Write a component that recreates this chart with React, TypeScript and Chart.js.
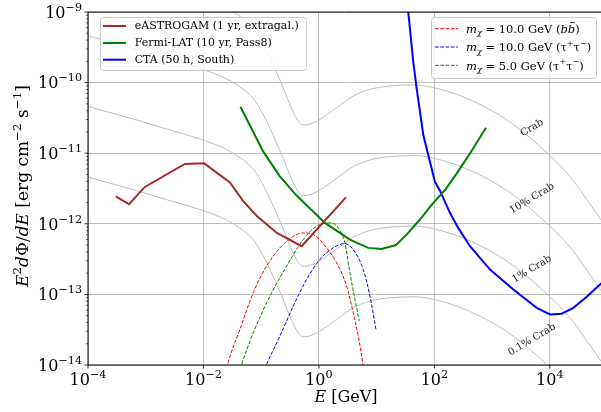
import React, { useEffect, useRef } from 'react';
import { Chart, registerables } from 'chart.js';

Chart.register(...registerables);

// ---------------- data ----------------
const astrogamE = [3.03e-4, 5.15e-4, 9.64e-4, 4.76e-3, 1.03e-2, 2.87e-2, 4.88e-2, 8.41e-2, 0.187, 0.501, 2.94];
const astrogamF = [2.45e-12, 1.89e-12, 3.33e-12, 7.03e-12, 7.18e-12, 3.86e-12, 2.09e-12, 1.29e-12, 7.43e-13, 4.81e-13, 2.37e-12];

const fermiE = [4.37e-2, 0.108, 0.211, 0.411, 1.27, 3.44, 7.14, 12.2, 21.6, 33.1, 56.2, 95.7, 153, 244, 414, 783];
const fermiF = [4.55e-11, 1.06e-11, 4.7e-12, 2.51e-12, 1.03e-12, 5.98e-13, 4.56e-13, 4.39e-13, 5.0e-13, 7.03e-13, 1.15e-12, 1.98e-12, 3.01e-12, 5.18e-12, 9.93e-12, 2.3e-11];

const ctaE = [32.2, 35.3, 43.1, 49.3, 64.3, 83.9, 102, 125, 186, 259, 414, 920, 2333, 5929, 10070, 16070, 25530, 43550, 74130, 124500];
const ctaF = [2.05e-9, 1.0e-9, 1.97e-10, 8.26e-11, 1.81e-11, 7.59e-12, 3.95e-12, 2.95e-12, 1.43e-12, 8.75e-13, 4.81e-13, 2.25e-13, 1.17e-13, 6.46e-14, 5.2e-14, 5.32e-14, 6.46e-14, 9.25e-14, 1.38e-13, 2.11e-13];

const dmBb10E = [1.92e-2, 2.68e-2, 4.28e-2, 7.26e-2, 0.124, 0.24, 0.535, 0.796, 1.36, 2.03, 3.02, 3.93, 4.8, 5.71, 6.53];
const dmBb10F = [3.24e-15, 1.08e-14, 3.19e-14, 1.05e-13, 2.51e-13, 5.08e-13, 7.43e-13, 7.03e-13, 4.56e-13, 2.8e-13, 1.31e-13, 5.5e-14, 2.56e-14, 1.08e-14, 3.24e-15];

const dmTau10E = [9.12e-2, 0.124, 0.211, 0.359, 0.612, 1.04, 1.77, 2.82, 3.93, 5.86, 7.66, 9.73];
const dmTau10F = [5.37e-15, 1.02e-14, 2.56e-14, 6.81e-14, 1.63e-13, 3.12e-13, 4.56e-13, 5.25e-13, 4.32e-13, 2.25e-13, 9.44e-14, 3.2e-14];

const dmTau5E = [3.5e-2, 4.57e-2, 7.26e-2, 0.142, 0.275, 0.535, 0.912, 1.55, 2.16, 2.82, 3.44, 4.21, 5.0];
const dmTau5F = [5.37e-15, 1.02e-14, 2.85e-14, 9.44e-14, 2.51e-13, 5.98e-13, 9.23e-13, 1.03e-12, 8.75e-13, 5.37e-13, 2.02e-13, 8.47e-14, 4.18e-14];

// Crab SED (100 %)
const crabE = [7.94e-5, 1.0e-4, 1.6e-4, 6.05e-4, 2.3e-3, 8.67e-3, 2.51e-2, 4.88e-2, 7.26e-2, 9.48e-2, 0.142, 0.24, 0.337, 0.433, 0.535, 0.698, 1.04, 2.03, 3.93, 7.66, 17.0, 43.1, 163, 617, 2333, 8831, 15030, 25530, 43650, 74130, 134900];
const crabF = [4.86e-9, 4.6e-9, 4.12e-9, 3.05e-9, 2.2e-9, 1.59e-9, 1.13e-9, 8.02e-10, 5.98e-10, 4.32e-10, 2.25e-10, 8.47e-11, 4.28e-11, 2.89e-11, 2.51e-11, 2.58e-11, 3.01e-11, 4.42e-11, 6.46e-11, 8.02e-11, 8.95e-11, 9.25e-11, 7.6e-11, 4.92e-11, 2.56e-11, 1.02e-11, 6.68e-12, 4.09e-12, 2.21e-12, 1.19e-12, 5.45e-13];
const crabFractions = [1, 0.1, 0.01, 0.001];
const crabLabels = ['Crab', '10% Crab', '1% Crab', '0.1% Crab'];
const crabLabelE = 4.9e3;
const crabLabelF = 2.28e-11;

const xTickValues = [1e-4, 1e-2, 1, 1e2, 1e4];
const xTickExps = [-4, -2, 0, 2, 4];
const yTickValues = [1e-14, 1e-13, 1e-12, 1e-11, 1e-10, 1e-9];
const yTickExps = [-14, -13, -12, -11, -10, -9];

const X_MIN = 1e-4;
const X_MAX = 7.7e4;
const Y_MIN = 1e-14;
const Y_MAX = 1e-9;

const instrumentLabels = ['eASTROGAM (1 yr, extragal.)', 'Fermi-LAT (10 yr, Pass8)', 'CTA (50 h, South)'];
const instrumentColors = ['#a52a2a', '#008000', '#0000ff'];
const dmColors = ['#ff0000', '#0000ff', '#008000'];
const dmMasses = ['10.0', '10.0', '5.0'];
const dmChannels = ['bb', 'tautau', 'tautau'];

// ---------------- helpers ----------------
const FONT = '"DejaVu Serif", serif';
const pts = (E: number[], F: number[], k = 1) => E.map((e, i) => ({ x: e, y: F[i] * k }));

type Seg = { t: string; it?: boolean; sup?: boolean; sub?: boolean; bar?: boolean };

function drawRich(ctx: CanvasRenderingContext2D, segs: Seg[], x: number, y: number, size: number, align: 'left' | 'center' | 'right') {
  const fontFor = (s: Seg) => `${s.it ? 'italic ' : ''}${s.sup || s.sub ? size * 0.7 : size}px ${FONT}`;
  ctx.textBaseline = 'alphabetic';
  ctx.textAlign = 'left';
  const widths = segs.map((s) => {
    ctx.font = fontFor(s);
    return ctx.measureText(s.t).width;
  });
  const total = widths.reduce((a, b) => a + b, 0);
  let cx = align === 'left' ? x : align === 'center' ? x - total / 2 : x - total;
  segs.forEach((s, i) => {
    ctx.font = fontFor(s);
    const dy = s.sup ? -size * 0.44 : s.sub ? size * 0.22 : 0;
    ctx.fillText(s.t, cx, y + dy);
    if (s.bar) {
      ctx.save();
      ctx.lineWidth = 0.8;
      ctx.strokeStyle = ctx.fillStyle as string;
      ctx.beginPath();
      ctx.moveTo(cx + widths[i] * 0.3, y - size * 0.9);
      ctx.lineTo(cx + widths[i] * 0.95, y - size * 0.9);
      ctx.stroke();
      ctx.restore();
    }
    cx += widths[i];
  });
  return total;
}

function powSegs(exp: number): Seg[] {
  const e = exp < 0 ? '\u2212' + String(-exp) : String(exp);
  return [{ t: '10' }, { t: e, sup: true }];
}

function dmSegs(i: number): Seg[] {
  const base: Seg[] = [{ t: 'm', it: true }, { t: '\u03c7', it: true, sub: true }, { t: ` = ${dmMasses[i]} GeV (` }];
  if (dmChannels[i] === 'bb') {
    return [...base, { t: 'b', it: true }, { t: 'b', it: true, bar: true }, { t: ')' }];
  }
  return [...base, { t: '\u03c4' }, { t: '+', sup: true }, { t: '\u03c4' }, { t: '\u2212', sup: true }, { t: ')' }];
}

const decorPlugin = {
  id: 'decor',
  afterDraw(chart: any) {
    const ctx: CanvasRenderingContext2D = chart.ctx;
    const xs = chart.scales.x;
    const ys = chart.scales.y;
    const a = chart.chartArea;
    ctx.save();

    // crab labels
    ctx.fillStyle = '#222';
    crabLabels.forEach((lab, i) => {
      const px = xs.getPixelForValue(crabLabelE);
      const py = ys.getPixelForValue(crabLabelF * crabFractions[i]);
      ctx.save();
      ctx.translate(px, py);
      ctx.rotate((-31 * Math.PI) / 180);
      ctx.font = `10px ${FONT}`;
      ctx.textAlign = 'center';
      ctx.textBaseline = 'middle';
      ctx.fillText(lab, 0, 0);
      ctx.restore();
    });

    // spines
    ctx.strokeStyle = '#000';
    ctx.lineWidth = 1;
    ctx.beginPath();
    ctx.moveTo(a.left, a.top);
    ctx.lineTo(a.right, a.top);
    ctx.moveTo(a.left, a.top);
    ctx.lineTo(a.left, a.bottom);
    ctx.lineTo(a.right, a.bottom);
    ctx.stroke();

    // ticks
    ctx.lineWidth = 0.8;
    ctx.beginPath();
    xTickValues.forEach((v) => {
      const px = xs.getPixelForValue(v);
      ctx.moveTo(px, a.bottom);
      ctx.lineTo(px, a.bottom + 3.5);
    });
    yTickValues.forEach((v) => {
      const py = ys.getPixelForValue(v);
      ctx.moveTo(a.left, py);
      ctx.lineTo(a.left - 3.5, py);
    });
    ctx.stroke();
    ctx.lineWidth = 0.6;
    ctx.beginPath();
    yTickValues.slice(0, -1).forEach((v) => {
      for (let k = 2; k <= 9; k++) {
        const py = ys.getPixelForValue(v * k);
        ctx.moveTo(a.left, py);
        ctx.lineTo(a.left - 2, py);
      }
    });
    ctx.stroke();

    // tick labels
    ctx.fillStyle = '#000';
    xTickValues.forEach((v, i) => {
      const px = xs.getPixelForValue(v);
      drawRich(ctx, powSegs(xTickExps[i]), px, a.bottom + 20, 16, 'center');
    });
    yTickValues.forEach((v, i) => {
      const py = ys.getPixelForValue(v);
      drawRich(ctx, powSegs(yTickExps[i]), a.left - 6, py + 5.8, 16, 'right');
    });

    // axis titles
    drawRich(ctx, [{ t: 'E', it: true }, { t: ' [GeV]' }], 346, 402, 16, 'center');
    ctx.save();
    ctx.translate(28, 186);
    ctx.rotate(-Math.PI / 2);
    drawRich(
      ctx,
      [
        { t: 'E', it: true },
        { t: '2', sup: true },
        { t: 'd', it: true },
        { t: '\u03a6' },
        { t: '/' },
        { t: 'dE', it: true },
        { t: ' [erg cm' },
        { t: '\u22122', sup: true },
        { t: ' s' },
        { t: '\u22121', sup: true },
        { t: ']' },
      ],
      0,
      0,
      17,
      'center'
    );
    ctx.restore();

    // legends
    const box = (x: number, y: number, w: number, h: number) => {
      ctx.save();
      ctx.fillStyle = 'rgba(255,255,255,0.8)';
      ctx.strokeStyle = '#cccccc';
      ctx.lineWidth = 1;
      ctx.beginPath();
      (ctx as any).roundRect(x, y, w, h, 3);
      ctx.fill();
      ctx.stroke();
      ctx.restore();
    };
    box(100.5, 17.5, 206, 53);
    box(431.5, 17.5, 165, 61);

    const leftRows = [26, 43, 59.7];
    instrumentLabels.forEach((lab, i) => {
      ctx.strokeStyle = instrumentColors[i];
      ctx.lineWidth = 2;
      ctx.setLineDash([]);
      ctx.beginPath();
      ctx.moveTo(103, leftRows[i]);
      ctx.lineTo(126, leftRows[i]);
      ctx.stroke();
      ctx.fillStyle = '#000';
      ctx.font = `11px ${FONT}`;
      ctx.textAlign = 'left';
      ctx.textBaseline = 'middle';
      ctx.fillText(lab, 134.7, leftRows[i] + 0.5);
    });

    const rightRows = [28.7, 47, 65.3];
    dmColors.forEach((c, i) => {
      ctx.strokeStyle = c;
      ctx.lineWidth = 1;
      ctx.setLineDash([3.7, 1.6]);
      ctx.beginPath();
      ctx.moveTo(435, rightRows[i]);
      ctx.lineTo(458, rightRows[i]);
      ctx.stroke();
      ctx.setLineDash([]);
      ctx.fillStyle = '#000';
      drawRich(ctx, dmSegs(i), 466, rightRows[i] + 4.2, 11.5, 'left');
    });

    ctx.restore();
  },
};

export default function App() {
  const ref = useRef<HTMLCanvasElement | null>(null);

  useEffect(() => {
    if (!ref.current) return;
    const solid = (label: string, data: any[], color: string) => ({
      label,
      data,
      borderColor: color,
      backgroundColor: color,
      borderWidth: 2,
      pointRadius: 0,
      tension: 0,
      fill: false,
      clip: 0,
    });
    const dashed = (label: string, data: any[], color: string) => ({
      label,
      data,
      borderColor: color,
      backgroundColor: color,
      borderWidth: 1,
      borderDash: [3.7, 1.6],
      pointRadius: 0,
      cubicInterpolationMode: 'monotone',
      fill: false,
      clip: 0,
    });
    const gray = (label: string, data: any[]) => ({
      label,
      data,
      borderColor: '#bdbdbd',
      borderWidth: 1,
      pointRadius: 0,
      cubicInterpolationMode: 'monotone',
      fill: false,
      clip: 0,
    });

    const chart = new Chart(ref.current, {
      type: 'line',
      data: {
        datasets: [
          solid(instrumentLabels[0], pts(astrogamE, astrogamF), instrumentColors[0]),
          solid(instrumentLabels[1], pts(fermiE, fermiF), instrumentColors[1]),
          solid(instrumentLabels[2], pts(ctaE, ctaF), instrumentColors[2]),
          dashed('bb10', pts(dmBb10E, dmBb10F), dmColors[0]),
          dashed('tau10', pts(dmTau10E, dmTau10F), dmColors[1]),
          dashed('tau5', pts(dmTau5E, dmTau5F), dmColors[2]),
          ...crabFractions.map((f, i) => gray(crabLabels[i], pts(crabE, crabF, f))),
        ] as any,
      },
      options: {
        responsive: false,
        animation: false,
        parsing: false,
        normalized: true,
        events: [],
        layout: { padding: { left: 88, top: 12, right: 0, bottom: 47 } },
        plugins: { legend: { display: false }, tooltip: { enabled: false }, title: { display: false } },
        scales: {
          x: {
            type: 'logarithmic',
            min: X_MIN,
            max: X_MAX,
            afterBuildTicks: (s: any) => {
              s.ticks = xTickValues.map((v) => ({ value: v }));
            },
            ticks: { display: false },
            grid: { color: '#b0b0b0', lineWidth: 0.8, drawTicks: false },
            border: { display: false },
            title: { display: false },
          },
          y: {
            type: 'logarithmic',
            min: Y_MIN,
            max: Y_MAX,
            afterBuildTicks: (s: any) => {
              s.ticks = yTickValues.map((v) => ({ value: v }));
            },
            ticks: { display: false },
            grid: { color: '#b0b0b0', lineWidth: 0.8, drawTicks: false },
            border: { display: false },
            title: { display: false },
          },
        },
      } as any,
      plugins: [decorPlugin],
    });
    return () => chart.destroy();
  }, []);

  return (
    <div style={{ position: 'fixed', left: 0, top: 0, width: 601, height: 412, background: '#fff' }}>
      <canvas ref={ref} width={601} height={412} style={{ display: 'block' }} />
    </div>
  );
}
